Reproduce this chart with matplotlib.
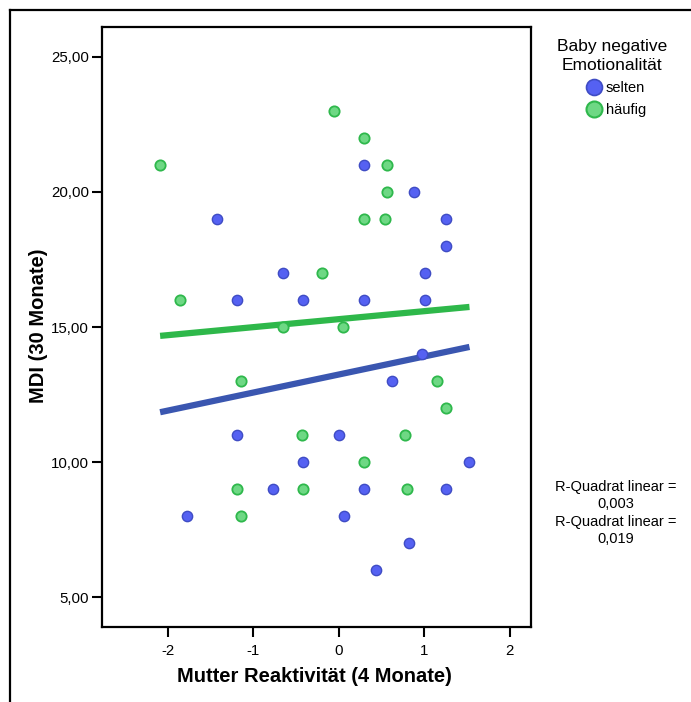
import numpy as np
import matplotlib
matplotlib.use("Agg")
import matplotlib.pyplot as plt
from matplotlib.lines import Line2D
from matplotlib.ticker import FuncFormatter

plt.rcParams["font.family"] = ["Liberation Sans", "DejaVu Sans"]

# selten (blue)
selten_x = [-1.42, -1.77, -1.19, -1.19, -0.65, -0.42, -0.42, -0.77, 0.00, 0.06,
            0.29, 0.29, 0.29, 0.44, 0.62, 0.82, 0.88, 0.97, 1.01, 1.01,
            1.25, 1.25, 1.25, 1.53]
selten_y = [19, 8, 16, 11, 17, 16, 10, 9, 11, 8,
            21, 16, 9, 6, 13, 7, 20, 14, 17, 16,
            19, 18, 9, 10]

# häufig (green)
haeufig_x = [-2.09, -1.86, -1.14, -1.19, -1.14, -0.65, -0.43, -0.42, -0.19, -0.05,
             0.05, 0.29, 0.29, 0.29, 0.56, 0.56, 0.54, 0.77, 0.80, 1.15, 1.25]
haeufig_y = [21, 16, 13, 9, 8, 15, 11, 9, 17, 23,
             15, 22, 19, 10, 21, 20, 19, 11, 9, 13, 12]

# linear fits (slope, intercept)
fit_selten = (0.668, 13.24)
fit_haeufig = (0.296, 15.29)

legend_title = "Baby negative\nEmotionalität"
group_labels = ["selten", "häufig"]
r2_text = "R-Quadrat linear =\n0,003\nR-Quadrat linear =\n0,019"

blue_fill, blue_edge, blue_line = "#5561F2", "#3F4CC4", "#3A56B0"
green_fill, green_edge, green_line = "#6ED884", "#2FB84C", "#2EB84A"

fig = plt.figure(figsize=(6.91, 7.02), dpi=100)
ax = fig.add_axes([102 / 691, 1 - 627 / 702, 429 / 691, 600 / 702])

xall = np.array(selten_x + haeufig_x)
xs = np.array([xall.min(), xall.max()])

ax.plot(xs, fit_haeufig[0] * xs + fit_haeufig[1], color=green_line, lw=4.5,
        solid_capstyle="butt", zorder=2)
ax.plot(xs, fit_selten[0] * xs + fit_selten[1], color=blue_line, lw=4.5,
        solid_capstyle="butt", zorder=2)

ax.scatter(selten_x, selten_y, s=55, c=blue_fill, edgecolors=blue_edge, linewidths=1, zorder=3)
ax.scatter(haeufig_x, haeufig_y, s=55, c=green_fill, edgecolors=green_edge, linewidths=1.3, zorder=3)

ax.set_xlim(-2.77, 2.25)
ax.set_ylim(3.89, 26.11)
ax.set_xticks([-2, -1, 0, 1, 2])
ax.set_yticks([5, 10, 15, 20, 25])
ax.yaxis.set_major_formatter(FuncFormatter(lambda v, p: f"{v:.2f}".replace(".", ",")))
ax.xaxis.set_major_formatter(FuncFormatter(lambda v, p: f"{v:.0f}"))
ax.tick_params(direction="out", length=7.5, width=1.5, labelsize=10.8)
ax.tick_params(axis="y", pad=2)
ax.tick_params(axis="x", pad=5)
for s in ax.spines.values():
    s.set_linewidth(1.6)

ax.set_xlabel("Mutter Reaktivität (4 Monate)", fontsize=14.5, fontweight="bold")
ax.set_ylabel("MDI (30 Monate)", fontsize=14.5, fontweight="bold")
ax.xaxis.set_label_coords(0.495, -0.066)
ax.yaxis.set_label_coords(-0.127, 0.502)

# legend
fig.text(612 / 691, 1 - 56 / 702, legend_title, ha="center", va="center",
         fontsize=12.5, linespacing=1.4, multialignment="center")
handles = [
    Line2D([], [], ls="", marker="o", ms=11.5, mfc=blue_fill, mec=blue_edge, mew=1.2),
    Line2D([], [], ls="", marker="o", ms=11.5, mfc=green_fill, mec=green_edge, mew=1.5),
]
fig.legend(handles, group_labels, loc="upper left",
           bbox_to_anchor=(587 / 691, 1 - 81 / 702),
           frameon=False, fontsize=10.5, handlelength=1.0,
           handletextpad=0.3, labelspacing=0.55, borderaxespad=0, borderpad=0)

fig.text(616 / 691, 1 - 513 / 702, r2_text, ha="center", va="center",
         fontsize=10.5, linespacing=1.3)

# outer frame lines
fig.add_artist(Line2D([10 / 691, 10 / 691], [0, 1 - 10 / 702], color="black", lw=1.6,
                      transform=fig.transFigure))
fig.add_artist(Line2D([10 / 691, 1], [1 - 10 / 702, 1 - 10 / 702], color="black", lw=1.6,
                      transform=fig.transFigure))

fig.savefig("out.png", dpi=100)
